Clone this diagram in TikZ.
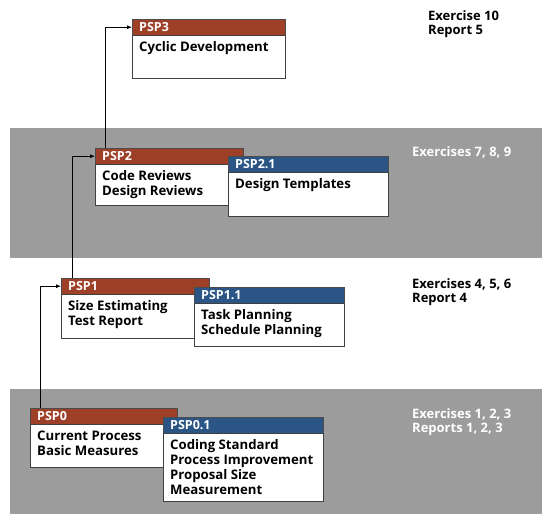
\documentclass[tikz,border=0pt]{standalone}
\usepackage{fontspec}
\setmainfont{Open Sans}
\usetikzlibrary{positioning,arrows.meta}

\definecolor{pspbrown}{HTML}{9E3F28}
\definecolor{pspblue}{HTML}{2A5585}
\definecolor{bandgray}{HTML}{9C9C9C}

\tikzset{
    hdr/.style={draw=black!70, fill=#1, text=white, font=\bfseries\fontsize{12.5}{14}\selectfont,
        anchor=north west, minimum height=16pt, inner xsep=7pt, inner ysep=0pt, align=flush left},
    body/.style={draw=black!75, fill=white, font=\bfseries\fontsize{13.2}{15}\selectfont,
        anchor=north west, inner xsep=7pt, inner ysep=4pt, align=flush left,
        text height=11.5pt, text depth=#1},
    lvl/.style={anchor=north west, font=\bfseries\fontsize{13}{14}\selectfont, align=left, inner sep=0pt},
    link/.style={-{Latex[length=5pt,width=4pt]}, line width=0.8pt}
}

\begin{document}
\begin{tikzpicture}[x=1pt,y=-1pt]
    \useasboundingbox (0,0) rectangle (542,514);

    % Bandas
    \fill[bandgray] (10,128) rectangle (542,258);
    \fill[bandgray] (10,389) rectangle (542,514);

    % PSP3
    \node[hdr=pspbrown, text width=139pt] (psp3h) at (132,19) {PSP3};
    \node[body=23.5pt, text width=139pt] (psp3) at (psp3h.south west) {Cyclic Development};

    % PSP2
    \node[hdr=pspbrown, text width=134pt] (psp2h) at (95,148) {PSP2};
    \node[body=21.5pt, text width=134pt] (psp2) at (psp2h.south west) {Code Reviews\\Design Reviews};
    \node[hdr=pspblue, text width=146pt] (psp21h) at (228,156) {PSP2.1};
    \node[body=24.5pt, text width=146pt] (psp21) at (psp21h.south west) {Design Templates};

    % PSP1
    \node[hdr=pspbrown, text width=134pt] (psp1h) at (61,278) {PSP1};
    \node[body=24.5pt, text width=134pt] (psp1) at (psp1h.south west) {Size Estimating\\Test Report};
    \node[hdr=pspblue, text width=136pt] (psp11h) at (194,287) {PSP1.1};
    \node[body=23.5pt, text width=136pt] (psp11) at (psp11h.south west) {Task Planning\\Schedule Planning};

    % PSP0
    \node[hdr=pspbrown, text width=133pt] (psp0h) at (30,408) {PSP0};
    \node[body=23.5pt, text width=133pt] (psp0) at (psp0h.south west) {Current Process\\Basic Measures};
    \node[hdr=pspblue, text width=146pt] (psp01h) at (163,417) {PSP0.1};
    \node[body=48.5pt, text width=146pt] (psp01) at (psp01h.south west)
        {Coding Standard\\Process Improvement\\Proposal Size\\Measurement};

    % Flechas
    \draw[link] ([xshift=10pt]psp0h.north west) |- (psp1h.west);
    \draw[link] ([xshift=11pt]psp1h.north west) |- (psp2h.west);
    \draw[link] ([xshift=10pt]psp2h.north west) |- (psp3h.west);

    % Ejercicios
    \node[lvl] (lv3) at (428,10) {Exercise 10\\Report 5};
    \node[lvl, text=white] (lv2) at (412,146) {Exercises 7, 8, 9};
    \node[lvl] (lv1) at (412,278) {Exercises 4, 5, 6\\Report 4};
    \node[lvl, text=white] (lv0) at (412,408) {Exercises 1, 2, 3\\Reports 1, 2, 3};
\end{tikzpicture}
\end{document}
